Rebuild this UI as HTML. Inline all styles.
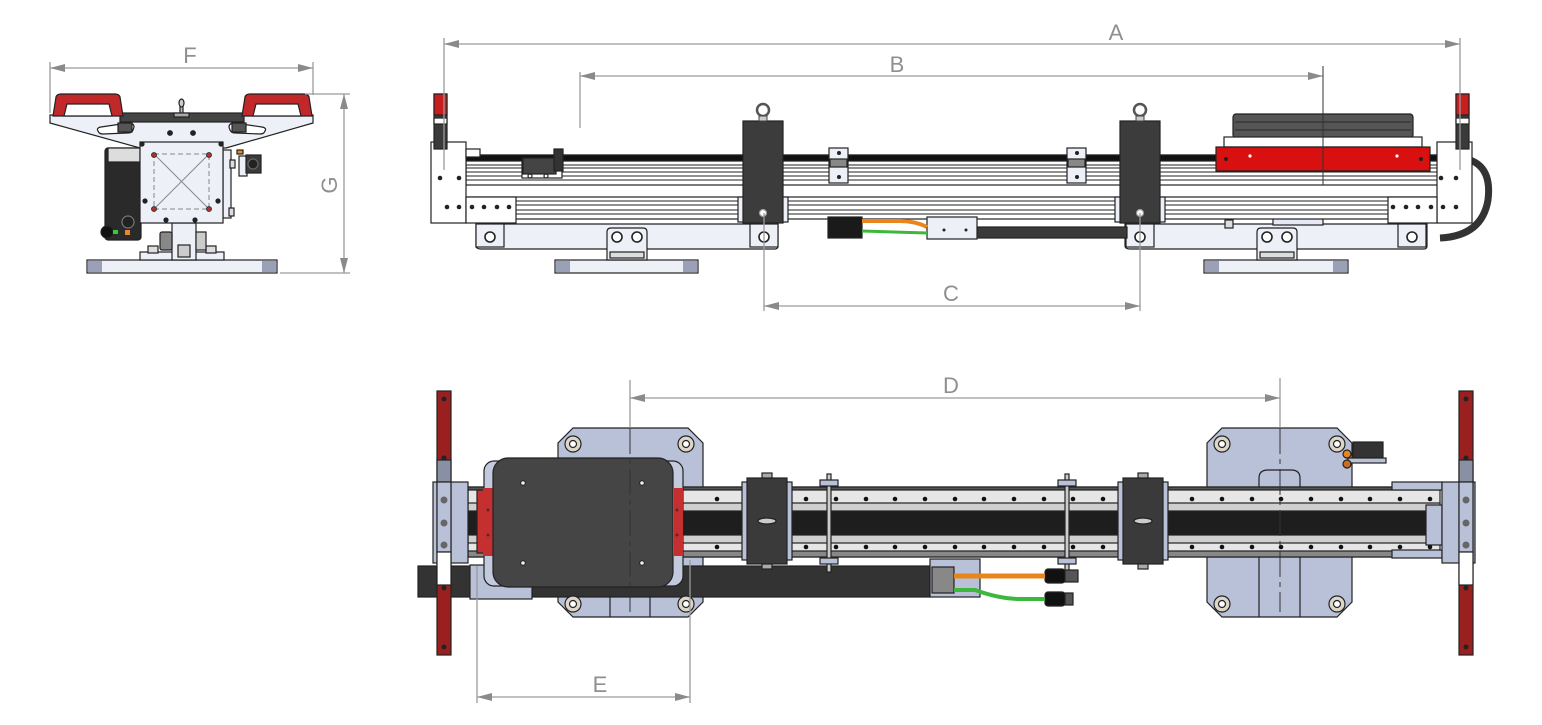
<!DOCTYPE html>
<html><head><meta charset="utf-8"><style>
html,body{margin:0;padding:0;background:#fff;}
svg{display:block;}
text{font-family:"Liberation Sans",sans-serif;fill:#8f8f8f;font-size:22px;}
</style></head><body>
<svg width="1542" height="725" viewBox="0 0 1542 725" xmlns="http://www.w3.org/2000/svg">
<defs>
<marker id="ar" viewBox="0 0 15 8" refX="15" refY="4" markerWidth="15" markerHeight="8" orient="auto-start-reverse" markerUnits="userSpaceOnUse"><path d="M0,0 L15,4 L0,8 z" fill="#8a8a8a"/></marker>
</defs>

<!-- ===================== FRONT VIEW (left) ===================== -->
<g stroke="#222" stroke-width="1.2">
  <rect x="87" y="260" width="190" height="13" fill="#eef0f8"/>
  <rect x="88" y="261" width="14" height="11" fill="#9aa0b8" stroke="none"/>
  <rect x="262" y="261" width="14" height="11" fill="#9aa0b8" stroke="none"/>
  <rect x="140" y="252" width="84" height="8" fill="#eef0f8"/>
  <rect x="148" y="246" width="10" height="7" fill="#ddd"/>
  <rect x="206" y="246" width="10" height="7" fill="#ddd"/>
  <rect x="172" y="223" width="24" height="37" fill="#eef0f8"/>
  <rect x="160" y="232" width="12" height="18" fill="#888" rx="2"/>
  <rect x="196" y="232" width="10" height="18" fill="#ccc"/>
  <rect x="178" y="245" width="12" height="12" fill="#ccc"/>
  <rect x="105" y="148" width="36" height="92" fill="#2a2a2a" rx="3"/>
  <rect x="108" y="148" width="32" height="14" fill="#ddd"/>
  <circle cx="128" cy="222" r="6" fill="#222" stroke="#777"/>
  <circle cx="107" cy="232" r="6" fill="#111"/>
  <rect x="113" y="230" width="5" height="4" fill="#3c3" stroke="none"/>
  <rect x="125" y="230" width="5" height="5" fill="#e88a20" stroke="none"/>
  <polygon points="50,115 313,115 313,123 226,148 140,148 50,123" fill="#eef0f8"/>
  <rect x="120" y="113" width="124" height="9" fill="#444"/>
  <path d="M98,131 Q96,128 101,127 L128,123 Q134,123 134,127 L133,130 Q132,133 127,133 L103,134 Q99,134 98,131 Z" fill="#fff"/>
  <path d="M265,131 Q267,128 262,127 L235,123 Q229,123 229,127 L230,130 Q231,133 236,133 L260,134 Q264,134 265,131 Z" fill="#fff"/>
  <rect x="118" y="123" width="14" height="9" fill="#555"/>
  <rect x="232" y="123" width="14" height="9" fill="#555"/>
  <circle cx="170" cy="133" r="2.3" fill="#222"/>
  <circle cx="193" cy="133" r="2.3" fill="#222"/>
  <rect x="180" y="101" width="3" height="14" fill="#bbb"/>
  <ellipse cx="181.5" cy="103" rx="2.5" ry="4" fill="#ccc"/>
  <rect x="174" y="113" width="15" height="4" fill="#aaa"/>
  <path d="M53,116 L56,97 Q57,94 61,94 L115,94 Q119,94 120,97 L123,116 Z" fill="#c0282a"/>
  <path d="M64,116 L67,104 L109,104 L112,116 Z" fill="#fff"/>
  <path d="M242,116 L245,97 Q246,94 250,94 L304,94 Q308,94 309,97 L312,116 Z" fill="#c0282a"/>
  <path d="M253,116 L256,104 L298,104 L301,116 Z" fill="#fff"/>
  <rect x="223" y="150" width="8" height="68" fill="#eef0f8"/>
  <rect x="230" y="160" width="5" height="8" fill="#ddd"/>
  <rect x="229" y="208" width="5" height="8" fill="#ddd"/>
  <rect x="140" y="142" width="83" height="81" fill="#eef0f8"/>
  <circle cx="142" cy="144" r="2" fill="#222"/>
  <circle cx="221" cy="144" r="2" fill="#222"/>
  <circle cx="145" cy="201" r="2" fill="#222"/>
  <circle cx="218" cy="201" r="2" fill="#222"/>
  <circle cx="166" cy="220" r="2" fill="#222"/>
  <circle cx="195" cy="220" r="2" fill="#222"/>
  <rect x="237" y="150" width="6" height="4" fill="#e88a20"/>
  <rect x="239" y="156" width="8" height="20" fill="#eef0f8"/>
  <rect x="246" y="155" width="15" height="18" fill="#3a3a3a"/>
  <circle cx="253" cy="164" r="5" fill="#222" stroke="#666"/>
</g>
<g stroke="#888" stroke-width="1">
  <rect x="154" y="154" width="55" height="55" fill="none" stroke-dasharray="5,3"/>
  <line x1="154" y1="154" x2="209" y2="209"/>
  <line x1="209" y1="154" x2="154" y2="209"/>
</g>
<g fill="#b03030" stroke="#222" stroke-width="0.8">
  <circle cx="154" cy="155" r="2.5"/><circle cx="209" cy="155" r="2.5"/>
  <circle cx="154" cy="209" r="2.5"/><circle cx="209" cy="209" r="2.5"/>
</g>

<!-- ===================== SIDE VIEW (top right) ===================== -->
<g stroke="#222" stroke-width="1.2">
  <path d="M1470,160 Q1492,168 1488,200 Q1482,236 1440,238" fill="none" stroke="#333" stroke-width="7"/>
  <rect x="555" y="260" width="143" height="13" fill="#eef0f8"/>
  <rect x="556" y="261" width="14" height="11" fill="#9aa0b8" stroke="none"/>
  <rect x="683" y="261" width="14" height="11" fill="#9aa0b8" stroke="none"/>
  <rect x="1204" y="260" width="144" height="13" fill="#eef0f8"/>
  <rect x="1205" y="261" width="14" height="11" fill="#9aa0b8" stroke="none"/>
  <rect x="1333" y="261" width="14" height="11" fill="#9aa0b8" stroke="none"/>
  <path d="M476,224 L778,224 L778,246 Q778,249 775,249 L481,249 Q476,249 476,246 Z" fill="#eef0f8"/>
  <path d="M1125,224 L1427,224 L1427,246 Q1427,249 1424,249 L1130,249 Q1125,249 1125,246 Z" fill="#eef0f8"/>
  <rect x="476" y="224" width="28" height="23" fill="#eef0f8"/>
  <rect x="750" y="224" width="28" height="23" fill="#eef0f8"/>
  <rect x="1126" y="224" width="28" height="23" fill="#eef0f8"/>
  <rect x="1398" y="224" width="28" height="23" fill="#eef0f8"/>
  <circle cx="490" cy="237" r="5" fill="#fff" stroke-width="1.6"/>
  <circle cx="764" cy="237" r="5" fill="#fff" stroke-width="1.6"/>
  <circle cx="1140" cy="237" r="5" fill="#fff" stroke-width="1.6"/>
  <circle cx="1412" cy="237" r="5" fill="#fff" stroke-width="1.6"/>
  <path d="M607,260 L607,232 Q607,228 611,228 L643,228 Q647,228 647,232 L647,260 Z" fill="#eef0f8"/>
  <circle cx="617" cy="237" r="5" fill="#fff" stroke-width="1.6"/>
  <circle cx="637" cy="237" r="5" fill="#fff" stroke-width="1.6"/>
  <rect x="610" y="252" width="34" height="6" fill="#ddd"/>
  <path d="M1257,260 L1257,232 Q1257,228 1261,228 L1293,228 Q1297,228 1297,232 L1297,260 Z" fill="#eef0f8"/>
  <circle cx="1267" cy="237" r="5" fill="#fff" stroke-width="1.6"/>
  <circle cx="1287" cy="237" r="5" fill="#fff" stroke-width="1.6"/>
  <rect x="1260" y="252" width="34" height="6" fill="#ddd"/>
  <rect x="1225" y="220" width="8" height="8" fill="#ddd"/>
  <rect x="975" y="227" width="152" height="11" fill="#3a3a3a"/>
  <rect x="1273" y="215" width="50" height="10" fill="#e6e8f4"/>
  <rect x="466" y="155" width="975" height="30" fill="#fff"/>
  <rect x="466" y="155" width="975" height="6" fill="#111"/>
  <rect x="466" y="197" width="975" height="22" fill="#fff"/>
</g>
<g stroke="#222" stroke-width="1">
  <line x1="466" y1="165" x2="1437" y2="165"/>
  <line x1="466" y1="168" x2="1437" y2="168"/>
  <line x1="466" y1="172" x2="1437" y2="172"/>
  <line x1="466" y1="176" x2="1437" y2="176"/>
  <line x1="466" y1="180" x2="1437" y2="180"/>
  <line x1="466" y1="201" x2="1437" y2="201"/>
  <line x1="466" y1="205" x2="1437" y2="205"/>
  <line x1="466" y1="210" x2="1437" y2="210"/>
  <line x1="466" y1="214" x2="1437" y2="214"/>
</g>
<g stroke="#222" stroke-width="1.2">
  <rect x="431" y="142" width="35" height="81" fill="#fff"/>
  <rect x="466" y="149" width="14" height="8" fill="#fff"/>
  <rect x="466" y="197" width="50" height="26" fill="#fff"/>
  <rect x="1437" y="142" width="35" height="81" fill="#fff"/>
  <rect x="1388" y="197" width="49" height="26" fill="#fff"/>
  <rect x="434" y="94" width="13" height="55" fill="#3a3a3a"/>
  <rect x="434" y="94" width="13" height="21" fill="#c81e1e"/>
  <rect x="434" y="118" width="13" height="6" fill="#fff"/>
  <rect x="1456" y="94" width="13" height="55" fill="#3a3a3a"/>
  <rect x="1456" y="94" width="13" height="21" fill="#c81e1e"/>
  <rect x="1456" y="118" width="13" height="6" fill="#fff"/>
  <rect x="522" y="158" width="40" height="20" fill="#fff"/>
  <rect x="523" y="158" width="33" height="16" fill="#444"/>
  <rect x="554" y="149" width="9" height="22" fill="#333"/>
  <circle cx="530" cy="176" r="2" fill="#fff"/>
  <circle cx="546" cy="176" r="2" fill="#fff"/>
  <rect x="829" y="148" width="19" height="35" fill="#eef0f8"/>
  <rect x="830" y="159" width="17" height="8" fill="#888"/>
  <rect x="1067" y="148" width="19" height="35" fill="#eef0f8"/>
  <rect x="1068" y="159" width="17" height="8" fill="#888"/>
  <rect x="738" y="197" width="50" height="25" fill="#eef0f8"/>
  <rect x="743" y="121" width="40" height="102" fill="#3c3c3c"/>
  <rect x="1115" y="197" width="50" height="25" fill="#eef0f8"/>
  <rect x="1120" y="121" width="40" height="102" fill="#3c3c3c"/>
  <circle cx="763" cy="213" r="3.5" fill="#fff" stroke="#999"/>
  <circle cx="1140" cy="213" r="3.5" fill="#fff" stroke="#999"/>
  <rect x="1233" y="114" width="180" height="24" fill="#555" rx="3"/>
  <line x1="1235" y1="122" x2="1411" y2="122" stroke="#333"/>
  <line x1="1235" y1="130" x2="1411" y2="130" stroke="#333"/>
  <rect x="1224" y="137" width="198" height="10" fill="#fff"/>
  <rect x="1216" y="147" width="214" height="24" fill="#d81010"/>
  <rect x="927" y="217" width="50" height="22" fill="#eef0f8"/>
  <rect x="828" y="217" width="34" height="21" fill="#1a1a1a"/>
</g>
<g fill="none" stroke="none">
  <circle cx="440" cy="178" r="2.3" fill="#222"/><circle cx="459" cy="178" r="2.3" fill="#222"/>
  <circle cx="447" cy="207" r="2.3" fill="#222"/><circle cx="459" cy="207" r="2.3" fill="#222"/>
  <circle cx="472" cy="207" r="2.3" fill="#222"/><circle cx="484" cy="207" r="2.3" fill="#222"/>
  <circle cx="497" cy="207" r="2.3" fill="#222"/><circle cx="509" cy="207" r="2.3" fill="#222"/>
  <circle cx="1441" cy="178" r="2.3" fill="#222"/><circle cx="1456" cy="178" r="2.3" fill="#222"/>
  <circle cx="1393" cy="207" r="2.3" fill="#222"/><circle cx="1406" cy="207" r="2.3" fill="#222"/>
  <circle cx="1418" cy="207" r="2.3" fill="#222"/><circle cx="1431" cy="207" r="2.3" fill="#222"/>
  <circle cx="1443" cy="207" r="2.3" fill="#222"/><circle cx="1456" cy="207" r="2.3" fill="#222"/>
  <circle cx="839" cy="153" r="2" fill="#222"/><circle cx="839" cy="177" r="2" fill="#222"/>
  <circle cx="1077" cy="153" r="2" fill="#222"/><circle cx="1077" cy="177" r="2" fill="#222"/>
  <circle cx="1226" cy="159" r="2" fill="#222"/><circle cx="1421" cy="159" r="2" fill="#222"/>
  <circle cx="1250" cy="156" r="1.6" fill="#fff"/><circle cx="1397" cy="156" r="1.6" fill="#fff"/>
  <circle cx="944" cy="230" r="1.5" fill="#222"/><circle cx="966" cy="230" r="1.5" fill="#222"/>
</g>
<g fill="none" stroke="#555" stroke-width="2.5">
  <circle cx="763" cy="110" r="6"/>
  <circle cx="1140" cy="110" r="6"/>
</g>
<rect x="759" y="116" width="8" height="5" fill="#ccc" stroke="#444"/>
<rect x="1136" y="116" width="8" height="5" fill="#ccc" stroke="#444"/>
<path d="M862,221 L900,221 Q915,221 927,227" fill="none" stroke="#e8861c" stroke-width="4"/>
<path d="M862,231 L927,233" fill="none" stroke="#3cb83c" stroke-width="3"/>

<!-- ===================== BOTTOM VIEW ===================== -->
<g stroke="#222" stroke-width="1.2">
  <polygon points="573,428 688,428 703,443 703,602 688,617 573,617 558,602 558,443" fill="#b9c1d9"/>
  <polygon points="1222,428 1337,428 1352,443 1352,602 1337,617 1222,617 1207,602 1207,443" fill="#b9c1d9"/>
  <line x1="610" y1="597" x2="610" y2="617"/><line x1="650" y1="597" x2="650" y2="617"/>
  <line x1="1259" y1="555" x2="1259" y2="617"/><line x1="1300" y1="555" x2="1300" y2="617"/>
  <path d="M1259,488 L1259,478 Q1259,470 1268,470 L1291,470 Q1300,470 1300,478 L1300,488" fill="#b9c1d9"/>
  <rect x="418" y="566" width="512" height="31" fill="#333"/>
  <rect x="470" y="565" width="62" height="34" fill="#b9c1d9"/>
  <rect x="468" y="487" width="972" height="70" fill="#e6e6e6"/>
  <rect x="468" y="511" width="972" height="24" fill="#1e1e1e"/>
  <rect x="468" y="503" width="972" height="8" fill="#cfcfcf"/>
  <rect x="468" y="535" width="972" height="8" fill="#cfcfcf"/>
  <rect x="468" y="551" width="972" height="6" fill="#888"/>
  <rect x="468" y="487" width="972" height="3" fill="#555"/>
  <rect x="433" y="482" width="35" height="81" fill="#b9c1d9"/>
  <rect x="477" y="490" width="8" height="63" fill="#c43030"/>
  <rect x="1392" y="482" width="50" height="8" fill="#b9c1d9"/>
  <rect x="1392" y="550" width="50" height="8" fill="#b9c1d9"/>
  <rect x="1426" y="505" width="16" height="40" fill="#b9c1d9"/>
  <rect x="1442" y="482" width="33" height="81" fill="#b9c1d9"/>
  <rect x="484" y="461" width="199" height="125" rx="10" fill="#c4cade"/>
  <rect x="483" y="488" width="10" height="68" fill="#c43030" stroke="none"/>
  <rect x="674" y="488" width="9" height="68" fill="#c43030" stroke="none"/>
  <rect x="493" y="458" width="180" height="129" rx="15" fill="#454545"/>
</g>
<g fill="#111">
  <circle cx="717" cy="499" r="2.3"/><circle cx="747" cy="499" r="2.3"/><circle cx="776" cy="499" r="2.3"/><circle cx="806" cy="499" r="2.3"/><circle cx="836" cy="499" r="2.3"/><circle cx="866" cy="499" r="2.3"/><circle cx="895" cy="499" r="2.3"/><circle cx="925" cy="499" r="2.3"/><circle cx="955" cy="499" r="2.3"/><circle cx="984" cy="499" r="2.3"/><circle cx="1014" cy="499" r="2.3"/><circle cx="1044" cy="499" r="2.3"/><circle cx="1073" cy="499" r="2.3"/><circle cx="1103" cy="499" r="2.3"/><circle cx="1133" cy="499" r="2.3"/><circle cx="1163" cy="499" r="2.3"/><circle cx="1192" cy="499" r="2.3"/><circle cx="1222" cy="499" r="2.3"/><circle cx="1252" cy="499" r="2.3"/><circle cx="1281" cy="499" r="2.3"/><circle cx="1311" cy="499" r="2.3"/><circle cx="1341" cy="499" r="2.3"/><circle cx="1370" cy="499" r="2.3"/><circle cx="1400" cy="499" r="2.3"/><circle cx="1430" cy="499" r="2.3"/>
  <circle cx="717" cy="547" r="2.3"/><circle cx="747" cy="547" r="2.3"/><circle cx="776" cy="547" r="2.3"/><circle cx="806" cy="547" r="2.3"/><circle cx="836" cy="547" r="2.3"/><circle cx="866" cy="547" r="2.3"/><circle cx="895" cy="547" r="2.3"/><circle cx="925" cy="547" r="2.3"/><circle cx="955" cy="547" r="2.3"/><circle cx="984" cy="547" r="2.3"/><circle cx="1014" cy="547" r="2.3"/><circle cx="1044" cy="547" r="2.3"/><circle cx="1073" cy="547" r="2.3"/><circle cx="1103" cy="547" r="2.3"/><circle cx="1133" cy="547" r="2.3"/><circle cx="1163" cy="547" r="2.3"/><circle cx="1192" cy="547" r="2.3"/><circle cx="1222" cy="547" r="2.3"/><circle cx="1252" cy="547" r="2.3"/><circle cx="1281" cy="547" r="2.3"/><circle cx="1311" cy="547" r="2.3"/><circle cx="1341" cy="547" r="2.3"/><circle cx="1370" cy="547" r="2.3"/><circle cx="1400" cy="547" r="2.3"/><circle cx="1430" cy="547" r="2.3"/>
</g>
<g stroke="#222" stroke-width="1.2">
  <circle cx="573" cy="444" r="8" fill="#ddd6c8"/><circle cx="573" cy="444" r="3.5" fill="#fff"/>
  <circle cx="686" cy="444" r="8" fill="#ddd6c8"/><circle cx="686" cy="444" r="3.5" fill="#fff"/>
  <circle cx="573" cy="604" r="8" fill="#ddd6c8"/><circle cx="573" cy="604" r="3.5" fill="#fff"/>
  <circle cx="686" cy="604" r="8" fill="#ddd6c8"/><circle cx="686" cy="604" r="3.5" fill="#fff"/>
  <circle cx="1222" cy="444" r="8" fill="#ddd6c8"/><circle cx="1222" cy="444" r="3.5" fill="#fff"/>
  <circle cx="1337" cy="444" r="8" fill="#ddd6c8"/><circle cx="1337" cy="444" r="3.5" fill="#fff"/>
  <circle cx="1222" cy="604" r="8" fill="#ddd6c8"/><circle cx="1222" cy="604" r="3.5" fill="#fff"/>
  <circle cx="1337" cy="604" r="8" fill="#ddd6c8"/><circle cx="1337" cy="604" r="3.5" fill="#fff"/>
  <rect x="827" y="474" width="4" height="98" fill="#ccc"/>
  <rect x="820" y="480" width="18" height="6" fill="#b9c1d9"/>
  <rect x="820" y="558" width="18" height="6" fill="#b9c1d9"/>
  <rect x="1065" y="474" width="4" height="98" fill="#ccc"/>
  <rect x="1058" y="480" width="18" height="6" fill="#b9c1d9"/>
  <rect x="1058" y="558" width="18" height="6" fill="#b9c1d9"/>
  <rect x="742" y="482" width="50" height="78" fill="#b9c1d9"/>
  <rect x="747" y="478" width="40" height="86" fill="#3a3a3a"/>
  <rect x="762" y="473" width="10" height="5" fill="#aaa"/>
  <rect x="762" y="564" width="10" height="5" fill="#aaa"/>
  <ellipse cx="767" cy="521" rx="9" ry="3" fill="#ccc"/>
  <rect x="1118" y="482" width="50" height="78" fill="#b9c1d9"/>
  <rect x="1123" y="478" width="40" height="86" fill="#3a3a3a"/>
  <rect x="1138" y="473" width="10" height="5" fill="#aaa"/>
  <rect x="1138" y="564" width="10" height="5" fill="#aaa"/>
  <ellipse cx="1143" cy="521" rx="9" ry="3" fill="#ccc"/>
  <rect x="930" y="559" width="50" height="38" fill="#b9c1d9"/>
  <rect x="932" y="567" width="22" height="26" fill="#888"/>
  <rect x="1045" y="569" width="20" height="14" fill="#111" rx="3"/>
  <rect x="1065" y="570" width="13" height="12" fill="#555"/>
  <rect x="1045" y="592" width="20" height="14" fill="#111" rx="3"/>
  <rect x="1065" y="593" width="8" height="12" fill="#555"/>
  <rect x="1353" y="442" width="30" height="16" fill="#333"/>
  <rect x="1348" y="458" width="38" height="5" fill="#b9c1d9"/>
  <circle cx="1347" cy="454" r="4" fill="#e8861c"/>
  <circle cx="1347" cy="464" r="4" fill="#c87020"/>
  <rect x="437" y="391" width="14" height="264" fill="#9a2020"/>
  <rect x="437" y="460" width="14" height="22" fill="#8a90a4"/>
  <rect x="437" y="482" width="14" height="70" fill="#b9c1d9"/>
  <rect x="437" y="552" width="14" height="33" fill="#fff"/>
  <rect x="1459" y="391" width="14" height="264" fill="#9a2020"/>
  <rect x="1459" y="460" width="14" height="22" fill="#8a90a4"/>
  <rect x="1459" y="482" width="14" height="70" fill="#b9c1d9"/>
  <rect x="1459" y="552" width="14" height="33" fill="#fff"/>
</g>
<g fill="#222">
  <circle cx="444" cy="399" r="2.5"/><circle cx="444" cy="458" r="2.5"/><circle cx="444" cy="588" r="2.5"/><circle cx="444" cy="647" r="2.5"/>
  <circle cx="1466" cy="399" r="2.5"/><circle cx="1466" cy="458" r="2.5"/><circle cx="1466" cy="588" r="2.5"/><circle cx="1466" cy="647" r="2.5"/>
  <circle cx="444" cy="500" r="3.5" fill="#666"/><circle cx="444" cy="523" r="3.5" fill="#666"/><circle cx="444" cy="545" r="3.5" fill="#666"/>
  <circle cx="1466" cy="500" r="3.5" fill="#666"/><circle cx="1466" cy="523" r="3.5" fill="#666"/><circle cx="1466" cy="545" r="3.5" fill="#666"/>
  <circle cx="523" cy="483" r="2.3" fill="#eee" stroke="#222"/><circle cx="642" cy="483" r="2.3" fill="#eee" stroke="#222"/>
  <circle cx="523" cy="563" r="2.3" fill="#eee" stroke="#222"/><circle cx="642" cy="563" r="2.3" fill="#eee" stroke="#222"/>
  <circle cx="488" cy="510" r="1.5" fill="#622"/><circle cx="488" cy="535" r="1.5" fill="#622"/>
  <circle cx="677" cy="510" r="1.5" fill="#622"/><circle cx="677" cy="535" r="1.5" fill="#622"/>
</g>
<path d="M954,576 L1045,576" fill="none" stroke="#e8861c" stroke-width="5"/>
<path d="M954,590 L975,590 Q1000,599 1020,599 L1045,599" fill="none" stroke="#3cb83c" stroke-width="4"/>

<!-- ===================== DIMENSIONS ===================== -->
<g stroke="#9a9a9a" stroke-width="1.3" fill="none">
  <line x1="50" y1="62" x2="50" y2="113"/>
  <line x1="313" y1="62" x2="313" y2="95"/>
  <line x1="50" y1="68" x2="313" y2="68" marker-start="url(#ar)" marker-end="url(#ar)"/>
  <line x1="305" y1="94" x2="350" y2="94"/>
  <line x1="280" y1="273" x2="350" y2="273"/>
  <line x1="344" y1="94" x2="344" y2="273" marker-start="url(#ar)" marker-end="url(#ar)"/>
  <line x1="444" y1="38" x2="444" y2="170"/>
  <line x1="1460" y1="38" x2="1460" y2="170"/>
  <line x1="444" y1="44" x2="1460" y2="44" marker-start="url(#ar)" marker-end="url(#ar)"/>
  <line x1="580" y1="72" x2="580" y2="128"/>
  <line x1="580" y1="76" x2="1323" y2="76" marker-start="url(#ar)" marker-end="url(#ar)"/>
  <line x1="764" y1="213" x2="764" y2="311"/>
  <line x1="1140" y1="213" x2="1140" y2="311"/>
  <line x1="764" y1="306" x2="1140" y2="306" marker-start="url(#ar)" marker-end="url(#ar)"/>
  <line x1="630" y1="380" x2="630" y2="428"/>
  <line x1="1280" y1="378" x2="1280" y2="428"/>
  <line x1="630" y1="398" x2="1280" y2="398" marker-start="url(#ar)" marker-end="url(#ar)"/>
  <line x1="477" y1="566" x2="477" y2="703"/>
  <line x1="690" y1="560" x2="690" y2="703"/>
  <line x1="477" y1="697" x2="690" y2="697" marker-start="url(#ar)" marker-end="url(#ar)"/>
</g>
<g stroke="#333" stroke-width="1" fill="none">
  <line x1="1323" y1="66" x2="1323" y2="185"/>
  <line x1="630" y1="428" x2="630" y2="612" stroke-dasharray="26,5,5,5"/>
  <line x1="1280" y1="428" x2="1280" y2="612" stroke-dasharray="26,5,5,5"/>
</g>

<text x="1116" y="40" text-anchor="middle">A</text>
<text x="897" y="72" text-anchor="middle">B</text>
<text x="951" y="301" text-anchor="middle">C</text>
<text x="951" y="393" text-anchor="middle">D</text>
<text x="600" y="692" text-anchor="middle">E</text>
<text x="190" y="63" text-anchor="middle">F</text>
<text x="0" y="0" text-anchor="middle" transform="translate(337,185) rotate(-90)">G</text>
</svg>
</body></html>
